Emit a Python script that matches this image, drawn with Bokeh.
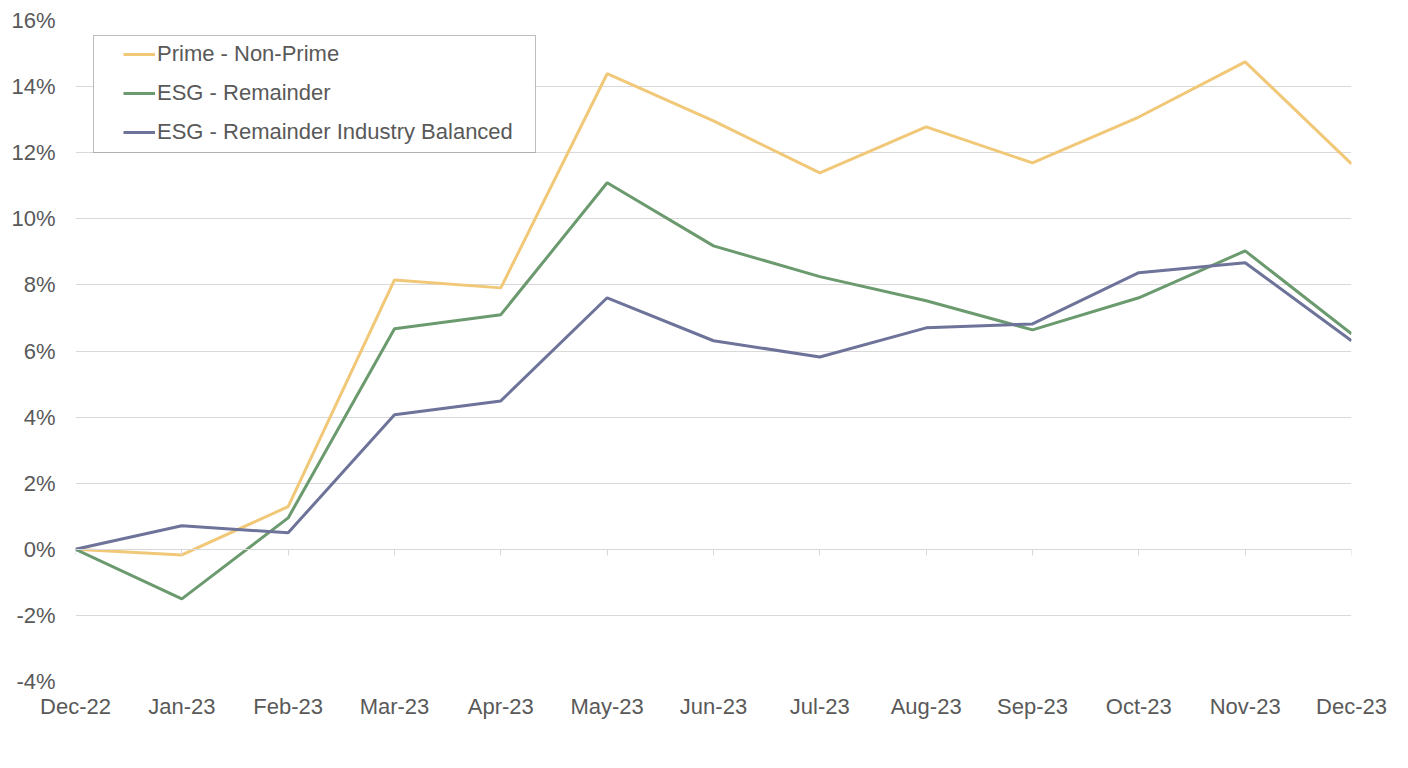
from bokeh.plotting import figure
from bokeh.models import Range1d, FixedTicker, LinearAxis, Legend, LegendItem, BoxAnnotation
from bokeh.embed import file_html
from bokeh.resources import INLINE

months = ["Dec-22", "Jan-23", "Feb-23", "Mar-23", "Apr-23", "May-23", "Jun-23",
          "Jul-23", "Aug-23", "Sep-23", "Oct-23", "Nov-23", "Dec-23"]
prime_non_prime = [0.0, -0.17, 1.29, 8.15, 7.91, 14.39, 12.96, 11.39, 12.78, 11.69, 13.08, 14.75, 11.66]
esg_remainder = [0.0, -1.50, 0.95, 6.67, 7.10, 11.09, 9.18, 8.25, 7.52, 6.64, 7.61, 9.03, 6.52]
esg_industry_balanced = [0.0, 0.71, 0.50, 4.07, 4.49, 7.61, 6.31, 5.82, 6.70, 6.82, 8.37, 8.67, 6.31]
y_ticks = [-4, -2, 0, 2, 4, 6, 8, 10, 12, 14, 16]

names = ["Prime - Non-Prime", "ESG - Remainder", "ESG - Remainder Industry Balanced"]
colors = ["#F0C878", "#6B9A6E", "#6E739A"]
series = [prime_non_prime, esg_remainder, esg_industry_balanced]

xs = list(range(len(months)))
FONT = "Liberation Sans"
TXT = "#595959"
GRID = "#D9D9D9"

p = figure(width=1392, height=752, output_backend="svg", toolbar_location=None,
           x_range=Range1d(0, len(months) - 1), y_range=Range1d(-4, 16),
           min_border_left=75, min_border_right=41, min_border_top=20, min_border_bottom=71)
p.outline_line_color = None
p.background_fill_color = "white"
p.border_fill_color = "white"

# y axis
p.yaxis.ticker = FixedTicker(ticks=y_ticks)
p.yaxis.major_label_overrides = {t: f"{t}%" for t in y_ticks}
p.yaxis.axis_line_color = None
p.yaxis.major_tick_line_color = None
p.yaxis.minor_tick_line_color = None
p.yaxis.major_label_text_font = FONT
p.yaxis.major_label_text_font_size = "22px"
p.yaxis.major_label_text_color = TXT
p.yaxis.major_label_standoff = 14

# bottom axis: labels only
p.xaxis.ticker = FixedTicker(ticks=xs)
p.xaxis.major_label_overrides = {i: m for i, m in enumerate(months)}
p.xaxis.axis_line_color = None
p.xaxis.major_tick_line_color = None
p.xaxis.minor_tick_line_color = None
p.xaxis.major_label_text_font = FONT
p.xaxis.major_label_text_font_size = "22px"
p.xaxis.major_label_text_color = TXT
p.xaxis.major_label_standoff = 6

# axis line with ticks at zero
zero_axis = LinearAxis(fixed_location=0, ticker=FixedTicker(ticks=xs))
zero_axis.axis_line_color = GRID
zero_axis.major_tick_line_color = GRID
zero_axis.major_tick_out = 6
zero_axis.major_tick_in = 0
zero_axis.minor_tick_line_color = None
zero_axis.major_label_text_alpha = 0
zero_axis.major_label_text_font_size = "1px"
p.add_layout(zero_axis, "below")

p.xgrid.grid_line_color = None
p.ygrid.ticker = FixedTicker(ticks=y_ticks)
p.ygrid.grid_line_color = GRID
p.ygrid.grid_line_width = 1

# legend frame (screen units, relative to plot frame)
legend_box = BoxAnnotation(left=18, right=460, bottom=529, top=646,
                           left_units="screen", right_units="screen",
                           top_units="screen", bottom_units="screen",
                           fill_color="white", fill_alpha=1,
                           line_color="#262626", line_width=1, level="overlay")
p.add_layout(legend_box)

items = []
for name, col, vals in zip(names, colors, series):
    r = p.line(xs, vals, line_color=col, line_width=3)
    items.append(LegendItem(label=name, renderers=[r]))

legend = Legend(items=items, location=(48, 534))
legend.label_text_font = FONT
legend.label_text_font_size = "22px"
legend.label_text_color = TXT
legend.glyph_width = 32
legend.glyph_height = 20
legend.label_height = 30
legend.label_standoff = 2
legend.spacing = 9
legend.margin = 0
legend.padding = 0
legend.border_line_color = None
legend.background_fill_alpha = 0
p.add_layout(legend, "center")

open("out.html", "w").write(file_html(p, INLINE))
